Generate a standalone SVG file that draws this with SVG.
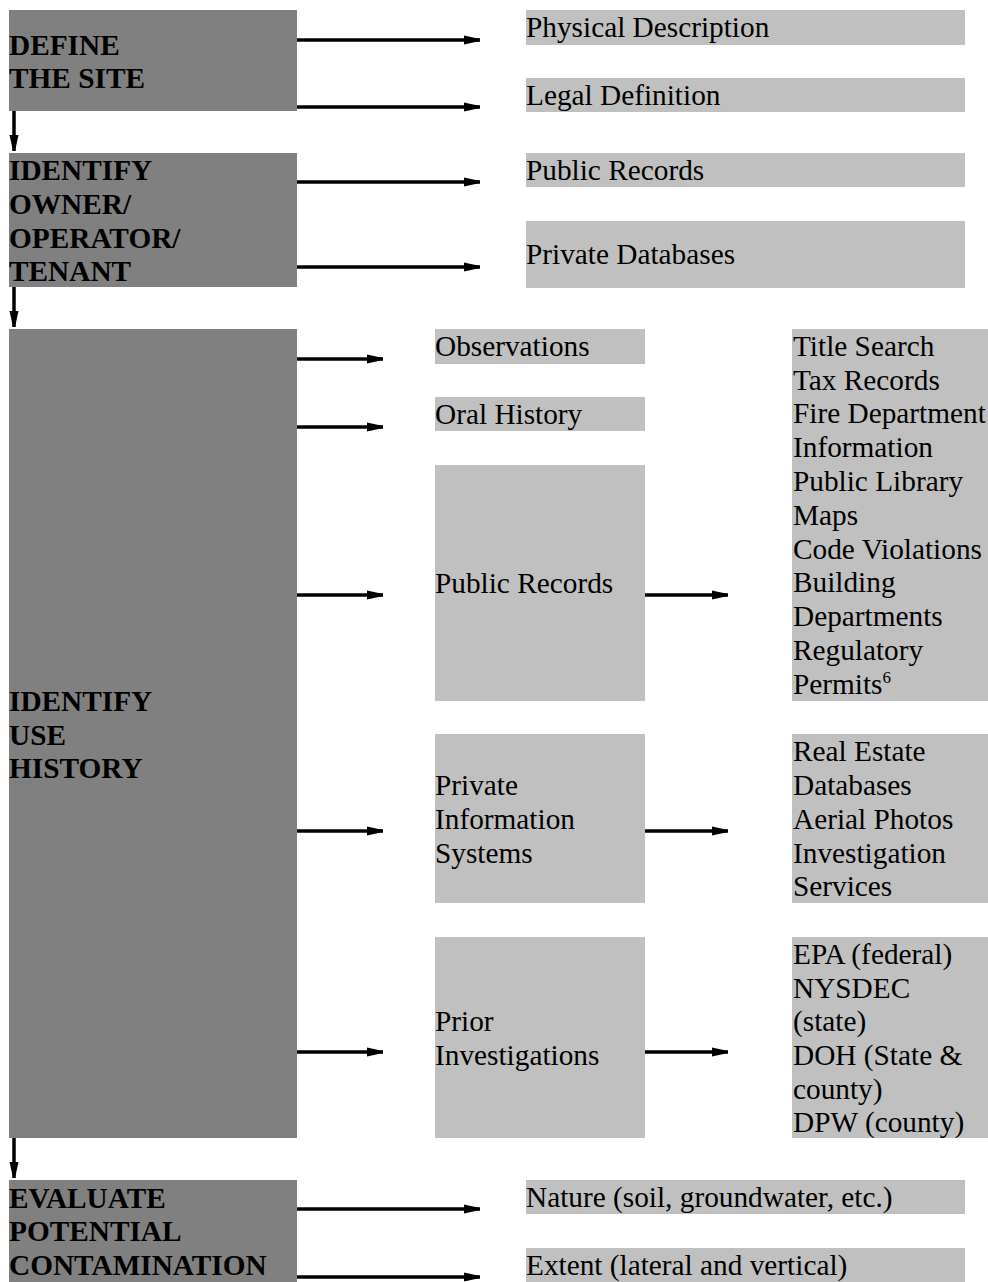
<svg xmlns="http://www.w3.org/2000/svg" width="988" height="1282" viewBox="0 0 988 1282">
<style>
.dark{fill:#808080}
.light{fill:#c0c0c0}
text{font-family:"Liberation Serif","Times New Roman",serif;font-size:29.3px;fill:#000}
.b{font-weight:bold}
.conn line{stroke:#000;stroke-width:3.5;fill:none}
</style>
<defs>
<marker id="ah" markerUnits="userSpaceOnUse" markerWidth="17" markerHeight="10" refX="16" refY="5" orient="auto">
<path d="M0,0.5 L16,4 L16,6 L0,9.5 z" fill="#000"/>
</marker>
</defs>
<rect width="988" height="1282" fill="#fff"/>

<g id="define-site">
<rect class="dark" x="9" y="10" width="288" height="101"/>
<text class="b" x="9" y="55">DEFINE</text>
<text class="b" x="9" y="88">THE SITE</text>
</g>
<g id="physical-description">
<rect class="light" x="526" y="10" width="439" height="35"/>
<text x="526" y="37">Physical Description</text>
</g>
<g id="legal-definition">
<rect class="light" x="526" y="78" width="439" height="34"/>
<text x="526" y="105">Legal Definition</text>
</g>

<g id="identify-owner">
<rect class="dark" x="9" y="153" width="288" height="134"/>
<text class="b" x="9" y="180">IDENTIFY</text>
<text class="b" x="9" y="214">OWNER/</text>
<text class="b" x="9" y="248">OPERATOR/</text>
<text class="b" x="9" y="281">TENANT</text>
</g>
<g id="public-records-owner">
<rect class="light" x="526" y="153" width="439" height="34"/>
<text x="526" y="180">Public Records</text>
</g>
<g id="private-databases">
<rect class="light" x="526" y="221" width="439" height="67"/>
<text x="526" y="264">Private Databases</text>
</g>

<g id="identify-use-history">
<rect class="dark" x="9" y="329" width="288" height="809"/>
<text class="b" x="9" y="711">IDENTIFY</text>
<text class="b" x="9" y="745">USE</text>
<text class="b" x="9" y="778">HISTORY</text>
</g>
<g id="observations">
<rect class="light" x="435" y="329" width="210" height="35"/>
<text x="435" y="356">Observations</text>
</g>
<g id="oral-history">
<rect class="light" x="435" y="397" width="210" height="34"/>
<text x="435" y="424">Oral History</text>
</g>
<g id="public-records-use">
<rect class="light" x="435" y="465" width="210" height="236"/>
<text x="435" y="593">Public Records</text>
</g>
<g id="public-records-list">
<rect class="light" x="792" y="329" width="196" height="372"/>
<text x="793" y="356">Title Search</text>
<text x="793" y="390">Tax Records</text>
<text x="793" y="423">Fire Department</text>
<text x="793" y="457">Information</text>
<text x="793" y="491">Public Library</text>
<text x="793" y="525">Maps</text>
<text x="793" y="559">Code Violations</text>
<text x="793" y="592">Building</text>
<text x="793" y="626">Departments</text>
<text x="793" y="660">Regulatory</text>
<text x="793" y="694">Permits<tspan font-size="17" dy="-11">6</tspan></text>
</g>
<g id="private-information-systems">
<rect class="light" x="435" y="734" width="210" height="169"/>
<text x="435" y="795">Private</text>
<text x="435" y="829">Information</text>
<text x="435" y="863">Systems</text>
</g>
<g id="private-info-list">
<rect class="light" x="792" y="734" width="196" height="169"/>
<text x="793" y="761">Real Estate</text>
<text x="793" y="795">Databases</text>
<text x="793" y="829">Aerial Photos</text>
<text x="793" y="863">Investigation</text>
<text x="793" y="896">Services</text>
</g>
<g id="prior-investigations">
<rect class="light" x="435" y="937" width="210" height="201"/>
<text x="435" y="1031">Prior</text>
<text x="435" y="1065">Investigations</text>
</g>
<g id="prior-list">
<rect class="light" x="792" y="937" width="196" height="201"/>
<text x="793" y="964">EPA (federal)</text>
<text x="793" y="998">NYSDEC</text>
<text x="793" y="1031">(state)</text>
<text x="793" y="1065">DOH (State &amp;</text>
<text x="793" y="1099">county)</text>
<text x="793" y="1132">DPW (county)</text>
</g>

<g id="evaluate-contamination">
<rect class="dark" x="9" y="1180" width="288" height="102"/>
<text class="b" x="9" y="1208">EVALUATE</text>
<text class="b" x="9" y="1241">POTENTIAL</text>
<text class="b" x="9" y="1275">CONTAMINATION</text>
</g>
<g id="nature">
<rect class="light" x="526" y="1180" width="439" height="34"/>
<text x="526" y="1207">Nature (soil, groundwater, etc.)</text>
</g>
<g id="extent">
<rect class="light" x="526" y="1248" width="439" height="34"/>
<text x="526" y="1275">Extent (lateral and vertical)</text>
</g>

<g id="connectors" class="conn">
<line x1="14" y1="111" x2="14" y2="151" marker-end="url(#ah)"/>
<line x1="14" y1="287" x2="14" y2="327" marker-end="url(#ah)"/>
<line x1="14" y1="1138" x2="14" y2="1178" marker-end="url(#ah)"/>
<line x1="297" y1="40" x2="480" y2="40" marker-end="url(#ah)"/>
<line x1="297" y1="107" x2="480" y2="107" marker-end="url(#ah)"/>
<line x1="297" y1="182" x2="480" y2="182" marker-end="url(#ah)"/>
<line x1="297" y1="267" x2="480" y2="267" marker-end="url(#ah)"/>
<line x1="297" y1="359" x2="383" y2="359" marker-end="url(#ah)"/>
<line x1="297" y1="427" x2="383" y2="427" marker-end="url(#ah)"/>
<line x1="297" y1="595" x2="383" y2="595" marker-end="url(#ah)"/>
<line x1="297" y1="831" x2="383" y2="831" marker-end="url(#ah)"/>
<line x1="297" y1="1052" x2="383" y2="1052" marker-end="url(#ah)"/>
<line x1="645" y1="595" x2="728" y2="595" marker-end="url(#ah)"/>
<line x1="645" y1="831" x2="728" y2="831" marker-end="url(#ah)"/>
<line x1="645" y1="1052" x2="728" y2="1052" marker-end="url(#ah)"/>
<line x1="297" y1="1209" x2="480" y2="1209" marker-end="url(#ah)"/>
<line x1="297" y1="1277" x2="480" y2="1277" marker-end="url(#ah)"/>
</g>
</svg>
